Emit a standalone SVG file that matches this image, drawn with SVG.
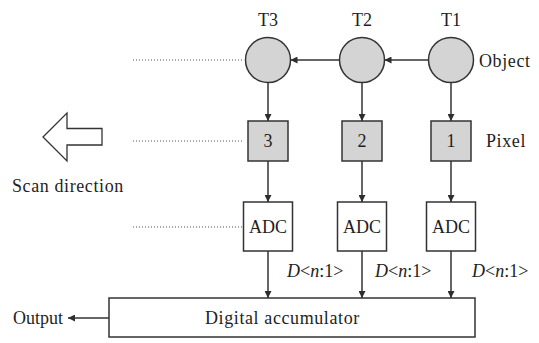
<svg xmlns="http://www.w3.org/2000/svg" width="539" height="343" viewBox="0 0 539 343">
  <defs>
    <marker id="arrow" viewBox="0 0 10 10" refX="10" refY="5" markerWidth="7" markerHeight="7" markerUnits="userSpaceOnUse" orient="auto">
      <path d="M0,0 L10,5 L0,10 z" fill="#2e2e2e"/>
    </marker>
  </defs>
  <style>
    .obj { fill: #d4d4d4; stroke: #333; stroke-width: 1.5; }
    .pix { fill: #d4d4d4; stroke: #333; stroke-width: 1.5; }
    .box { fill: #fff; stroke: #333; stroke-width: 1.5; }
    .wire { stroke: #333; stroke-width: 1.5; fill: none; marker-end: url(#arrow); }
    .dots { stroke: #555; stroke-width: 1; stroke-dasharray: 1 2; fill: none; }
    text { font-family: "Liberation Serif", "Times New Roman", serif; font-size: 18px; fill: #1e1e1e; }
    .c { text-anchor: middle; }
    .sp { letter-spacing: 0.6px; }
  </style>

  <!-- time labels -->
  <text class="c" x="268" y="26">T3</text>
  <text class="c" x="362" y="26">T2</text>
  <text class="c" x="451" y="26">T1</text>

  <!-- object positions -->
  <g id="obj-t3"><circle class="obj" cx="268" cy="60" r="22.5"/></g>
  <g id="obj-t2"><circle class="obj" cx="362" cy="60" r="22.5"/></g>
  <g id="obj-t1"><circle class="obj" cx="451" cy="60" r="22.5"/></g>
  <text class="sp" x="479" y="67">Object</text>

  <!-- pixels -->
  <g id="pixel-3"><rect class="pix" x="248" y="121" width="40" height="40"/><text class="c" x="268" y="147">3</text></g>
  <g id="pixel-2"><rect class="pix" x="342" y="121" width="40" height="40"/><text class="c" x="362" y="147">2</text></g>
  <g id="pixel-1"><rect class="pix" x="431" y="121" width="40" height="40"/><text class="c" x="451" y="147">1</text></g>
  <text class="sp" x="486" y="147">Pixel</text>

  <!-- converters -->
  <g id="adc-3"><rect class="box" x="243.5" y="202" width="49" height="49"/><text class="c" x="268" y="233">ADC</text></g>
  <g id="adc-2"><rect class="box" x="337.5" y="202" width="49" height="49"/><text class="c" x="362" y="233">ADC</text></g>
  <g id="adc-1"><rect class="box" x="426.5" y="202" width="49" height="49"/><text class="c" x="451" y="233">ADC</text></g>

  <!-- accumulator -->
  <g id="accumulator"><rect class="box" x="109" y="298" width="366" height="39"/><text class="sp" x="205" y="324">Digital accumulator</text></g>

  <!-- scan direction -->
  <g id="scan-direction">
    <polygon points="43,137 67,113 67,128.5 102,128.5 102,145 67,145 67,161" fill="#fff" stroke="#333" stroke-width="1.3"/>
    <text class="sp" x="12" y="192">Scan direction</text>
  </g>

  <!-- output label -->
  <text x="13" y="324">Output</text>

  <!-- data labels -->
  <text x="287" y="277"><tspan font-style="italic">D</tspan>&lt;<tspan font-style="italic">n</tspan>:1&gt;</text>
  <text x="375" y="277"><tspan font-style="italic">D</tspan>&lt;<tspan font-style="italic">n</tspan>:1&gt;</text>
  <text x="472" y="277"><tspan font-style="italic">D</tspan>&lt;<tspan font-style="italic">n</tspan>:1&gt;</text>

  <g id="connectors">
    <!-- object motion -->
    <line class="wire" x1="428.5" y1="60" x2="384.5" y2="60"/>
    <line class="wire" x1="339.5" y1="60" x2="290.5" y2="60"/>
    <!-- object to pixel -->
    <line class="wire" x1="268" y1="82.5" x2="268" y2="121"/>
    <line class="wire" x1="362" y1="82.5" x2="362" y2="121"/>
    <line class="wire" x1="451" y1="82.5" x2="451" y2="121"/>
    <!-- pixel to ADC -->
    <line class="wire" x1="268" y1="161" x2="268" y2="202"/>
    <line class="wire" x1="362" y1="161" x2="362" y2="202"/>
    <line class="wire" x1="451" y1="161" x2="451" y2="202"/>
    <!-- ADC to accumulator -->
    <line class="wire" x1="268" y1="251" x2="268" y2="298"/>
    <line class="wire" x1="362" y1="251" x2="362" y2="298"/>
    <line class="wire" x1="451" y1="251" x2="451" y2="298"/>
    <!-- output -->
    <line class="wire" x1="109" y1="318" x2="68" y2="318"/>
    <!-- dotted guides -->
    <line class="dots" x1="133" y1="60" x2="243" y2="60"/>
    <line class="dots" x1="133" y1="141" x2="243" y2="141"/>
    <line class="dots" x1="133" y1="227" x2="242" y2="227"/>
  </g>
</svg>
